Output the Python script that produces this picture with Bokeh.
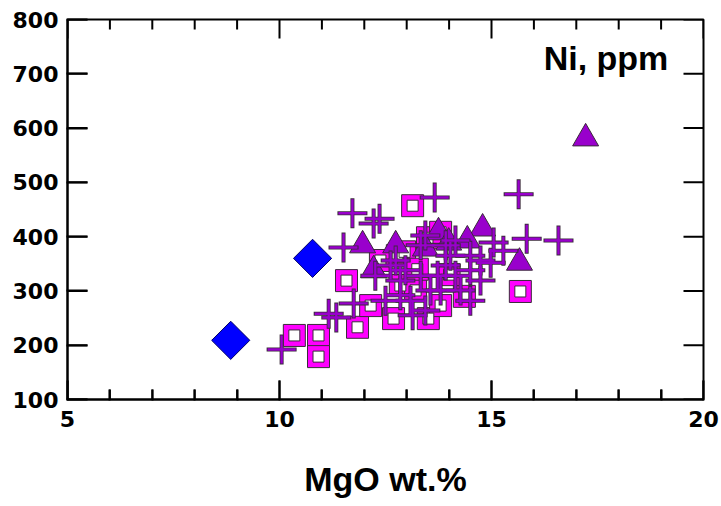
from bokeh.plotting import figure
from bokeh.models import LinearAxis, FixedTicker
from bokeh.core.properties import value
from bokeh.embed import file_html
from bokeh.resources import INLINE
import math

# ---- data (MgO wt.%, Ni ppm) ----
dia_mgo = [8.85, 10.78]
dia_ni = [209, 360]

sq_mgo = [10.35, 10.92, 10.92, 11.58, 11.84, 13.14, 15.68, 12.69, 13.51, 13.80,
          14.36, 12.78, 13.49, 13.80, 12.15, 12.85, 12.38, 13.21, 12.95, 13.25,
          14.00]
sq_ni = [218, 218, 179, 319, 233, 457, 299, 249, 249, 273,
         290, 365, 398, 408, 273, 310, 356, 301, 372, 340,
         330]

tri_mgo = [17.22, 15.66, 14.79, 14.43, 13.75, 11.96, 12.22, 12.74, 13.99, 13.44]
tri_ni = [581, 352, 415, 393, 408, 384, 338, 384, 389, 378]

cr_mgo = [10.05, 11.72, 12.22, 12.36, 11.51, 11.16, 11.34, 11.75, 13.66, 15.64,
          15.83, 16.58, 15.05, 13.44, 13.33, 12.74, 13.92, 12.26, 12.62, 12.97,
          13.33, 13.56, 13.92, 12.50, 12.85, 13.09, 13.80, 14.03, 14.50, 14.74,
          14.50, 14.15, 14.74, 14.27, 14.50, 13.14, 13.44, 12.85, 13.73, 14.15,
          14.98, 15.28]
cr_ni = [192, 443, 424, 433, 380, 258, 251, 277, 472, 478,
         396, 393, 389, 402, 384, 356, 384, 328, 347, 338,
         328, 301, 347, 282, 292, 282, 301, 365, 365, 356,
         338, 328, 319, 301, 282, 255, 264, 319, 328, 393,
         352, 374]

x_ticks = [5, 10, 15, 20]
x_minor = [6, 7, 8, 9, 11, 12, 13, 14, 16, 17, 18, 19]
y_ticks = [100, 200, 300, 400, 500, 600, 700, 800]

X0, X1, Y0, Y1 = 5, 20, 100, 800

FONT = "Liberation Sans"
TICKFONT = "DejaVu Sans"
PURPLE = "#9900CC"
MAGENTA = "#FF00FF"
EDGE = "#3a2a3a"

p = figure(width=721, height=506, x_range=(X0, X1), y_range=(Y0, Y1),
           output_backend="svg", toolbar_location=None, tools="",
           min_border_left=67, min_border_right=18, min_border_top=19,
           min_border_bottom=107, x_axis_location=None, y_axis_location=None)
p.grid.visible = False
p.outline_line_color = "black"
p.outline_line_width = 2

xt = FixedTicker(ticks=x_ticks, minor_ticks=x_minor)
yt = FixedTicker(ticks=y_ticks, minor_ticks=[])

bx = LinearAxis(ticker=xt)
bx.axis_line_color = "black"
bx.axis_line_width = 2
bx.major_tick_in = 19
bx.major_tick_out = 1
bx.major_tick_line_color = "black"
bx.major_tick_line_width = 2
bx.minor_tick_in = 10
bx.minor_tick_out = 1
bx.minor_tick_line_color = "black"
bx.minor_tick_line_width = 2
bx.major_label_text_font = TICKFONT
bx.major_label_text_font_style = "bold"
bx.major_label_text_font_size = "22px"
bx.major_label_text_color = "black"
bx.major_label_standoff = 10
bx.axis_label = "MgO wt.%"
bx.axis_label_text_font = FONT
bx.axis_label_text_font_style = "bold"
bx.axis_label_text_font_size = "34px"
bx.axis_label_text_color = "black"
bx.axis_label_standoff = 30
p.add_layout(bx, "below")

ly = LinearAxis(ticker=yt)
ly.axis_line_color = "black"
ly.axis_line_width = 2
ly.major_tick_in = 20
ly.major_tick_out = 1
ly.major_tick_line_color = "black"
ly.major_tick_line_width = 2
ly.minor_tick_line_color = None
ly.major_label_text_font = TICKFONT
ly.major_label_text_font_style = "bold"
ly.major_label_text_font_size = "22px"
ly.major_label_text_color = "black"
ly.major_label_standoff = 8
p.add_layout(ly, "left")

# diamonds
p.scatter(dia_mgo, dia_ni, marker="square", size=27, angle=math.pi / 4,
          fill_color="#0000FF", line_color="#000066", line_width=1)

# squares: magenta outer, white inner
p.scatter(sq_mgo, sq_ni, marker="square", size=22,
          fill_color=MAGENTA, line_color=EDGE, line_width=1)
p.scatter(sq_mgo, sq_ni, marker="square", size=11,
          fill_color="white", line_color=EDGE, line_width=1)

# triangles
p.scatter(tri_mgo, tri_ni, marker="triangle", size=26,
          fill_color=PURPLE, line_color=EDGE, line_width=1)

# crosses with dark outline
p.scatter(cr_mgo, cr_ni, marker="cross", size=30, line_color=EDGE, line_width=4)
p.scatter(cr_mgo, cr_ni, marker="cross", size=28, line_color=PURPLE, line_width=2.4)

# inward ticks on top and right (and again on left/bottom) as edge-centred dashes
ny, nx, nm = len(y_ticks), len(x_ticks), len(x_minor)
p.scatter([X0] * ny, y_ticks, marker="dash", size=40, line_color="black", line_width=2)
p.scatter([X1] * ny, y_ticks, marker="dash", size=40, line_color="black", line_width=2)
p.scatter(x_ticks, [Y0] * nx, marker="dash", size=38, angle=math.pi / 2,
          line_color="black", line_width=2)
p.scatter(x_ticks, [Y1] * nx, marker="dash", size=38, angle=math.pi / 2,
          line_color="black", line_width=2)
p.scatter(x_minor, [Y0] * nm, marker="dash", size=20, angle=math.pi / 2,
          line_color="black", line_width=2)
p.scatter(x_minor, [Y1] * nm, marker="dash", size=20, angle=math.pi / 2,
          line_color="black", line_width=2)

# panel title as a text glyph
p.text(x=[19.17], y=[729], text=["Ni, ppm"], text_font=value(FONT),
       text_font_style="bold", text_font_size="34px",
       text_align="right", text_baseline="alphabetic", text_color="black")

open("out.html", "w").write(file_html(p, INLINE))
